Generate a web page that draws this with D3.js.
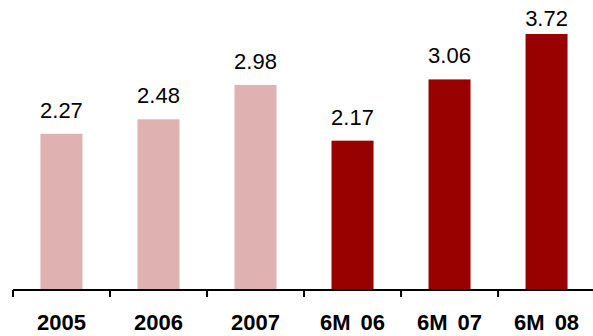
<!DOCTYPE html>
<html>
<head>
<meta charset="utf-8">
<script src="https://cdn.jsdelivr.net/npm/d3@7"></script>
<style>
  html, body { margin: 0; padding: 0; background: #fff; }
  svg { display: block; }
</style>
</head>
<body>
<svg id="chart"></svg>
<script>
const categories = ['2005', '2006', '2007', '6M 06', '6M 07', '6M 08'];
const values = [2.27, 2.48, 2.98, 2.17, 3.06, 3.72];
const periodType = ['year', 'year', 'year', 'half', 'half', 'half'];

const COLORS = { year: '#dfb1b1', half: '#990000' };

const width = 593;
const height = 336;
const baseline = 290;

const svg = d3.select('#chart')
  .attr('width', width)
  .attr('height', height);

// Category bands: one band per category, ticks at band edges
const x = d3.scaleBand()
  .domain(categories)
  .range([13, 13 + 97 * categories.length])
  .paddingInner(0.567)
  .paddingOuter(0.283);

const step = x.step();
const bandStart = d => x(d) - x.paddingOuter() * step;

const y = d3.scaleLinear()
  .domain([0, 3.72])
  .range([baseline, 34]);

const data = categories.map((c, i) => ({ name: c, value: values[i], type: periodType[i] }));

// Bars
svg.selectAll('.bar')
  .data(data)
  .enter().append('rect')
  .attr('class', 'bar')
  .attr('x', d => x(d.name))
  .attr('y', d => y(d.value))
  .attr('width', x.bandwidth())
  .attr('height', d => baseline - y(d.value))
  .attr('fill', d => COLORS[d.type]);

// Value labels (top one is squeezed under the top edge)
svg.selectAll('.value')
  .data(data)
  .enter().append('text')
  .attr('class', 'value')
  .attr('x', d => x(d.name) + x.bandwidth() / 2)
  .attr('y', d => Math.max(y(d.value) - 16, 26))
  .attr('text-anchor', 'middle')
  .attr('font-family', 'Liberation Sans, Arial, sans-serif')
  .attr('font-size', '22px')
  .attr('fill', '#000')
  .text(d => d.value.toFixed(2));

// Axis line and ticks
svg.append('line')
  .attr('x1', bandStart(categories[0]))
  .attr('x2', width)
  .attr('y1', baseline)
  .attr('y2', baseline)
  .attr('stroke', '#000')
  .attr('stroke-width', 2);

svg.selectAll('.tick')
  .data(categories)
  .enter().append('line')
  .attr('class', 'tick')
  .attr('x1', d => bandStart(d))
  .attr('x2', d => bandStart(d))
  .attr('y1', baseline)
  .attr('y2', baseline + 7)
  .attr('stroke', '#000')
  .attr('stroke-width', 2);

// Category labels
svg.selectAll('.cat')
  .data(data)
  .enter().append('text')
  .attr('class', 'cat')
  .attr('x', d => x(d.name) + x.bandwidth() / 2)
  .attr('y', 330)
  .attr('text-anchor', 'middle')
  .attr('font-family', 'Liberation Sans, Arial, sans-serif')
  .attr('font-size', '22px')
  .attr('font-weight', 'bold')
  .attr('word-spacing', '4px')
  .attr('fill', '#000')
  .text(d => d.name);
</script>
</body>
</html>
